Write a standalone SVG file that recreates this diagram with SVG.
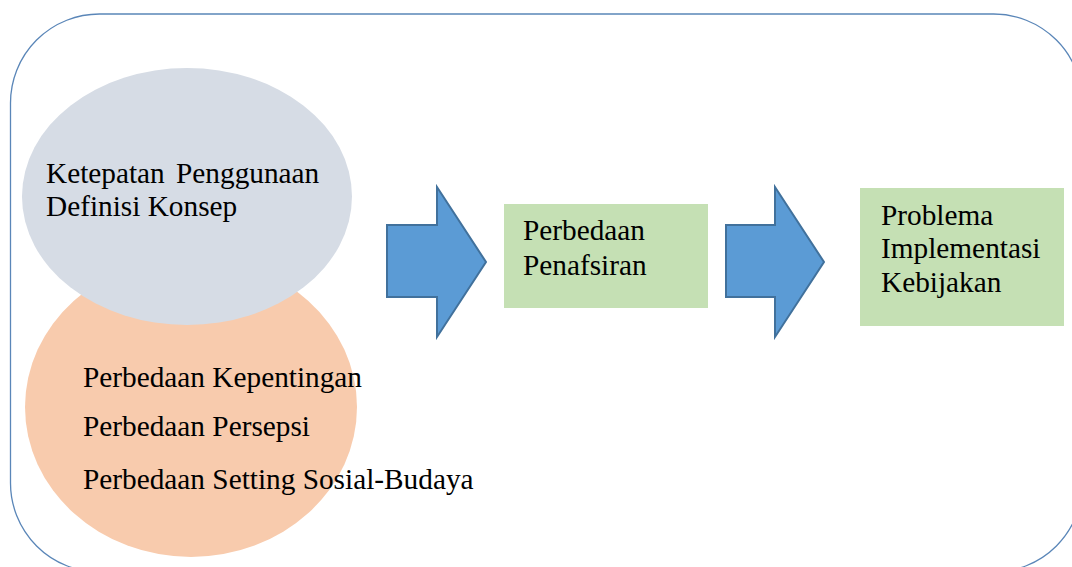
<svg xmlns="http://www.w3.org/2000/svg" width="1072" height="567" viewBox="0 0 1072 567">
  <style>
    .t { font-family: "Liberation Serif", "Times New Roman", serif; font-size: 29.3px; fill: #000; }
    .arrow { fill: #5b9bd5; stroke: #41719c; stroke-width: 2; stroke-linejoin: miter; }
    .box { fill: #c5e0b4; }
  </style>
  <rect width="1072" height="567" fill="#ffffff"/>
  <g id="frame">
    <rect x="10.5" y="14" width="1072" height="558" rx="89" ry="89" fill="none" stroke="#5a86b8" stroke-width="1.3"/>
  </g>
  <g id="factors">
    <ellipse cx="191" cy="407" rx="166" ry="150" fill="#f8cbad"/>
    <text class="t" x="83" y="387">Perbedaan Kepentingan</text>
    <text class="t" x="83" y="436">Perbedaan Persepsi</text>
    <text class="t" x="83" y="489">Perbedaan Setting Sosial-Budaya</text>
  </g>
  <g id="konsep">
    <ellipse cx="187" cy="196.5" rx="165" ry="128.5" fill="#d6dce5"/>
    <text class="t" x="46" y="183" word-spacing="4">Ketepatan Penggunaan</text>
    <text class="t" x="46" y="216">Definisi Konsep</text>
  </g>
  <g id="connectors">
    <polygon class="arrow" points="387,225 437,225 437,187 486,262 437,337 437,297 387,297"/>
    <polygon class="arrow" points="726,225 775,225 775,187 824,262 775,337 775,297 726,297"/>
  </g>
  <g id="penafsiran">
    <rect class="box" x="504" y="204" width="204" height="104"/>
    <text class="t" x="523" y="240">Perbedaan</text>
    <text class="t" x="523" y="275">Penafsiran</text>
  </g>
  <g id="problema">
    <rect class="box" x="860" y="188" width="204" height="138"/>
    <text class="t" x="881" y="225">Problema</text>
    <text class="t" x="881" y="258">Implementasi</text>
    <text class="t" x="881" y="292">Kebijakan</text>
  </g>
</svg>
